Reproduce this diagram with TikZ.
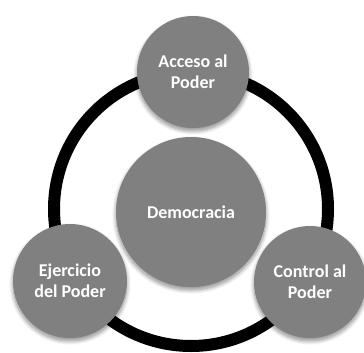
\documentclass[tikz,border=0pt]{standalone}
\usepackage{fontspec}
\setmainfont{Carlito}
\usetikzlibrary{shadows.blur}
\definecolor{discgray}{HTML}{808080}
\tikzset{
  disc/.style={circle, fill=discgray, draw=none, inner sep=0pt,
    text=white, font=\bfseries\fontsize{18}{21}\selectfont, align=center,
    blur shadow={shadow xshift=0pt, shadow yshift=-3pt, shadow blur steps=10, shadow blur radius=4pt, shadow opacity=45}},
  ringline/.style={draw=black, line width=12pt}
}
\begin{document}
\begin{tikzpicture}[x=1pt,y=-1pt]
\useasboundingbox (0,0) rectangle (364,353);
\coordinate (c) at (191,209);
\draw[ringline] (c) circle[radius=137];
\node[disc, minimum size=150pt] (dem) at (191,212) {Democracia};
\node[disc, minimum size=112pt] (acc) at (193,72) {Acceso al\\Poder};
\node[disc, minimum size=114pt] (eje) at (70,281) {Ejercicio\\del Poder};
\node[disc, minimum size=112pt] (con) at (310,282) {Control al\\Poder};
\end{tikzpicture}
\end{document}
